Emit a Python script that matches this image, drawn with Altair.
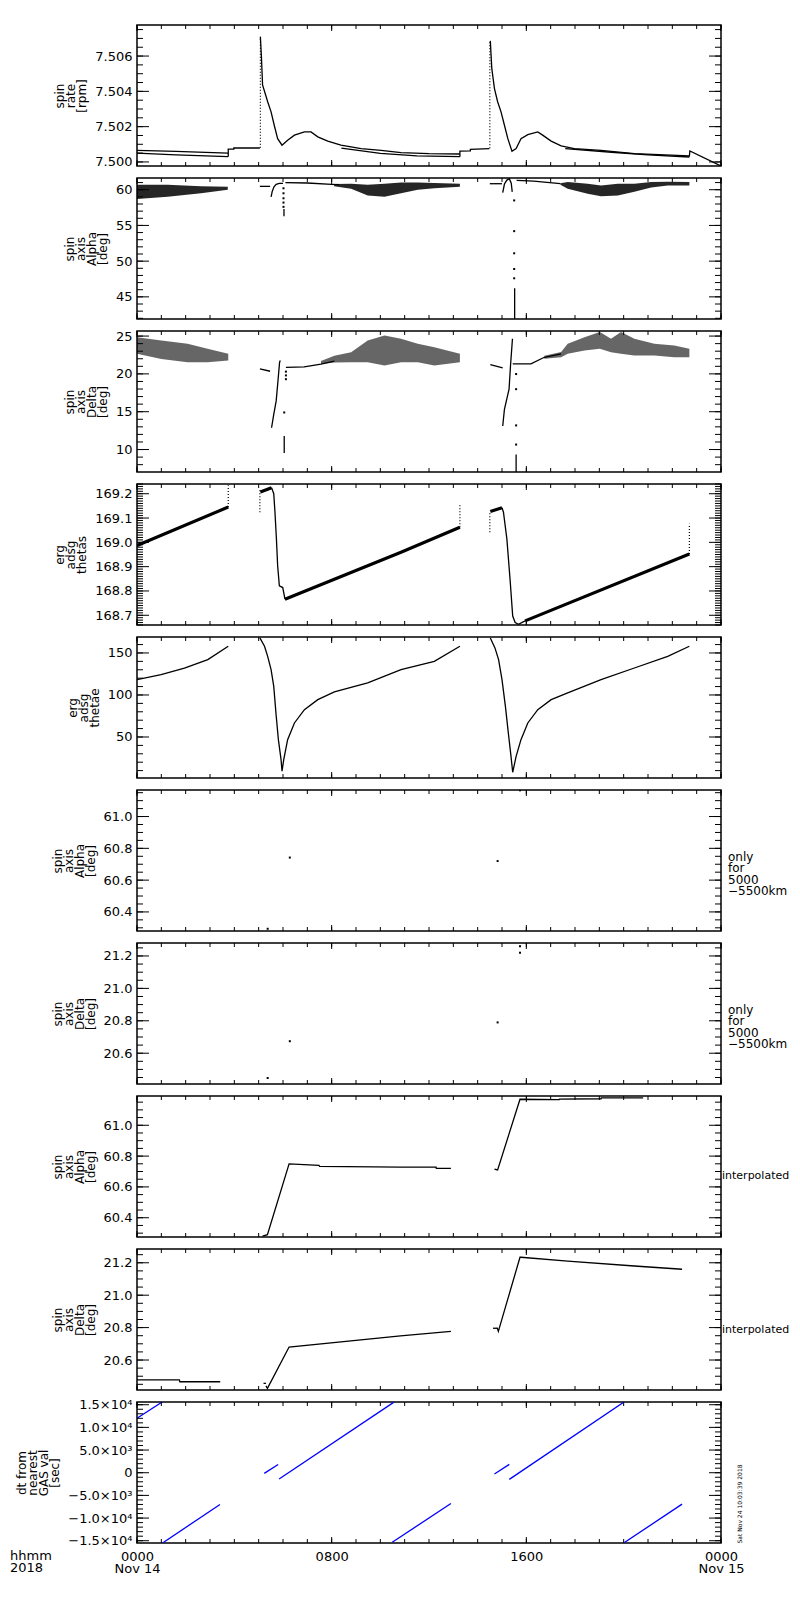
import json
import math

import altair as alt
import pandas as pd

W, H = 584, 141
FONT = "DejaVu Sans"

# time axis, hours after 0000 Nov 14 2018
HOUR_DOMAIN = [0, 24]
HOUR_MAJOR = [0, 8, 16, 24]
HOUR_LABELS = [["0000", "Nov 14"], "0800", "1600", ["0000", "Nov 15"]]

# panel 1 - spin rate [rpm]
RATE_DOMAIN = [7.49977, 7.50776]
RATE_MAJOR = [7.500, 7.502, 7.504, 7.506]
RATE_LINES = {
    "a1": ([0.0, 1.6, 3.74], [7.50066, 7.50060, 7.50050]),
    "a2": ([0.0, 1.6, 3.74], [7.50050, 7.50040, 7.50030]),
    "b": ([3.75, 3.75, 3.98, 3.98, 5.05], [7.50030, 7.50073, 7.50073, 7.50079, 7.50079]),
    "c": ([5.07, 5.11, 5.16, 5.37, 5.51, 5.64, 5.78, 5.96, 6.19, 6.47, 6.88, 7.15, 7.43,
           7.84, 8.38, 9.21, 10.03, 10.85, 12.0, 13.27],
          [7.5071, 7.50606, 7.50436, 7.50341, 7.50284, 7.50208, 7.50132, 7.50095, 7.50123,
           7.50152, 7.5017, 7.5017, 7.50142, 7.50118, 7.50095, 7.50076, 7.50066, 7.50053,
           7.50047, 7.50045]),
    "c2": ([8.4, 10.0, 11.5, 13.27], [7.50078, 7.50048, 7.50034, 7.50030]),
    "d": ([13.27, 13.27, 13.7, 13.7, 14.48], [7.50030, 7.50061, 7.50063, 7.50071, 7.50076]),
    "e": ([14.52, 14.58, 14.69, 14.82, 14.96, 15.1, 15.24, 15.41, 15.58, 15.78, 16.06, 16.47,
           16.67, 17.02, 17.43, 17.97, 19.07, 20.44, 22.7],
          [7.50686, 7.5053, 7.50416, 7.50341, 7.50284, 7.50208, 7.50132, 7.50061, 7.50076,
           7.50132, 7.50155, 7.5017, 7.50152, 7.50118, 7.50091, 7.50076, 7.50066, 7.50047,
           7.50034]),
    "e2": ([17.6, 19.5, 21.0, 22.7], [7.50076, 7.50055, 7.50040, 7.50028]),
    "f": ([22.7, 22.72, 24.0], [7.50030, 7.50062, 7.49977]),
}
RATE_DOTTED = {
    "s1": ([5.07, 5.07], [7.5008, 7.5071]),
    "s2": ([14.5, 14.5], [7.50078, 7.50686]),
}

# panel 2 - spin axis Alpha [deg]
ALPHA_DOMAIN = [41.9, 61.64]
ALPHA_MAJOR = [45, 50, 55, 60]
ALPHA_BANDS = {
    "b1": ([0.0, 1.26, 2.63, 3.73], [58.7, 59.0, 59.5, 60.0], [60.7, 60.7, 60.5, 60.4]),
    "b2": ([8.1, 8.8, 9.48, 10.17, 10.85, 11.54, 12.22, 13.27],
           [60.5, 60.14, 59.2, 59.0, 59.5, 60.0, 60.2, 60.4],
           [60.8, 60.84, 60.7, 60.84, 61.0, 61.0, 60.95, 60.84]),
    "b3": ([17.4, 17.7, 18.52, 19.07, 19.76, 20.44, 21.13, 21.81, 22.7],
           [60.7, 60.14, 59.45, 59.1, 59.2, 59.7, 60.3, 60.6, 60.6],
           [60.9, 61.07, 60.84, 60.6, 60.84, 60.84, 61.07, 61.1, 61.07]),
}
ALPHA_LINES = {
    "l1": ([5.05, 5.47], [60.47, 60.47]),
    "arc1": ([5.51, 5.56, 5.63, 5.72, 5.85, 6.0], [59.0, 59.8, 60.4, 60.75, 60.9, 60.9]),
    "l2": ([6.1, 7.0, 8.0, 8.3], [60.98, 60.94, 60.75, 60.7]),
    "l3": ([14.5, 15.0], [60.84, 60.84]),
    "arc2": ([15.03, 15.1, 15.2, 15.3, 15.38, 15.42], [59.6, 60.8, 61.35, 61.55, 60.9, 59.7]),
    "l4": ([15.6, 16.3, 17.4], [61.3, 61.2, 60.84]),
    "spk1": ([6.04, 6.04], [57.3, 56.3]),
    "spk2": ([15.52, 15.52], [46.2, 41.9]),
}
ALPHA_DOTS_T = [6.02, 6.02, 6.02, 6.02, 6.02, 15.5, 15.5, 15.5, 15.5, 15.5]
ALPHA_DOTS_V = [60.2, 59.5, 58.8, 58.2, 57.6, 58.5, 54.2, 51.1, 48.9, 47.6]

# panel 3 - spin axis Delta [deg]
DELTA_DOMAIN = [7.03, 25.67]
DELTA_MAJOR = [10, 15, 20, 25]
DELTA_BANDS = {
    "b1": ([0.0, 1.0, 2.08, 2.9, 3.75], [22.65, 21.98, 21.54, 21.54, 21.76],
           [24.86, 24.4, 23.98, 23.31, 22.65]),
    "b2": ([7.56, 8.11, 8.8, 9.48, 10.17, 10.85, 11.54, 12.22, 13.27],
           [21.3, 21.5, 21.54, 21.54, 21.1, 21.54, 21.54, 21.1, 21.54],
           [21.7, 22.4, 22.87, 24.42, 25.09, 24.64, 23.98, 23.53, 22.65]),
    "b3": ([16.74, 17.43, 17.7, 18.39, 19.02, 19.48, 19.89, 20.44, 21.26, 22.08, 22.7],
           [22.0, 22.2, 22.65, 23.09, 23.31, 22.87, 22.65, 22.43, 22.43, 22.2, 22.2],
           [22.4, 22.9, 23.98, 24.86, 25.53, 24.64, 25.53, 24.64, 23.98, 23.76, 23.31]),
}
DELTA_LINES = {
    "l1": ([5.05, 5.47], [20.65, 20.35]),
    "c1": ([5.53, 5.62, 5.72, 5.8, 5.86, 5.89], [12.88, 14.66, 16.43, 19.32, 21.54, 21.76]),
    "l2": ([6.12, 6.87, 7.56, 8.11], [20.87, 20.94, 21.3, 21.7]),
    "sp1": ([6.05, 6.05], [11.8, 9.55]),
    "l3": ([14.52, 15.03], [21.23, 20.78]),
    "c2": ([15.03, 15.1, 15.21, 15.29, 15.35, 15.43], [13.11, 15.32, 16.86, 17.97, 21.1, 24.64]),
    "sp2": ([15.58, 15.58], [9.33, 7.0]),
    "l4": ([15.44, 16.19, 16.74, 17.43], [21.32, 21.32, 22.2, 22.65]),
}
DELTA_DOTS_T = [6.12, 6.12, 6.12, 6.05, 15.58, 15.58, 15.58, 15.58]
DELTA_DOTS_V = [20.3, 19.8, 19.3, 14.9, 19.98, 17.98, 13.19, 10.66]

# panel 4 - erg adsg thetas
THETAS_DOMAIN = [168.66, 169.24]
THETAS_MAJOR = [168.7, 168.8, 168.9, 169.0, 169.1, 169.2]
THETAS_THICK = {
    "a": ([0.0, 3.75], [168.987, 169.145]),
    "b": ([5.07, 5.53], [169.207, 169.225]),
    "c": ([6.08, 10.85, 13.27], [168.766, 168.959, 169.062]),
    "d": ([14.52, 15.0], [169.127, 169.142]),
    "e": ([15.95, 22.7], [168.677, 168.952]),
}
THETAS_THIN = {
    "b2": ([5.53, 5.62, 5.67, 5.73, 5.78, 5.85, 5.99, 6.08],
           [169.225, 169.2, 169.124, 169.014, 168.904, 168.821, 168.814, 168.766]),
    "d2": ([15.0, 15.06, 15.2, 15.33, 15.44, 15.54, 15.68, 15.95],
           [169.142, 169.124, 169.014, 168.849, 168.697, 168.67, 168.663, 168.677]),
}
THETAS_DOTTED = {
    "s1": ([3.75, 3.75], [169.145, 169.235]),
    "s2": ([5.05, 5.05], [169.124, 169.214]),
    "s3": ([13.27, 13.27], [169.062, 169.159]),
    "s4": ([14.5, 14.5], [169.042, 169.124]),
    "s5": ([22.7, 22.7], [168.952, 169.076]),
}

# panel 5 - erg adsg thetae
THETAE_DOMAIN = [1.2, 169.0]
THETAE_MAJOR = [50, 100, 150]
THETAE_LINES = {
    "a": ([0.0, 0.99, 1.95, 2.91, 3.75], [118.2, 124.2, 132.1, 142.1, 158.0]),
    "b": ([5.05, 5.24, 5.37, 5.51, 5.62, 5.71, 5.81, 5.92, 5.96, 6.03, 6.19, 6.47, 6.88,
           7.43, 8.11, 9.48, 10.85, 12.22, 13.27],
          [167.9, 158.0, 146.0, 130.2, 110.3, 78.6, 46.8, 23.0, 9.2, 23.0, 46.8, 66.7, 82.5,
           94.4, 103.6, 114.3, 130.2, 140.1, 158.0]),
    "c": ([14.52, 14.71, 14.86, 15.0, 15.14, 15.26, 15.37, 15.44, 15.58, 15.78, 16.06, 16.47,
           17.02, 17.7, 19.07, 20.44, 21.81, 22.7],
          [167.9, 156.0, 142.1, 118.2, 86.5, 54.8, 27.0, 8.0, 27.0, 46.8, 66.7, 82.5, 94.4,
           102.4, 118.2, 132.1, 146.0, 158.0]),
}

# panels 6 / 7 - only for 5000-5500km
ALPHA_5K_DOMAIN = [60.28, 61.167]
ALPHA_5K_T = [5.37, 6.28, 14.82, 15.74]
ALPHA_5K_V = [60.294, 60.742, 60.72, 61.165]
DELTA_5K_DOMAIN = [20.41, 21.28]
DELTA_5K_T = [5.37, 6.28, 14.82, 15.74, 15.74]
DELTA_5K_V = [20.447, 20.674, 20.79, 21.26, 21.22]
ALPHA_FINE_MAJOR = [60.4, 60.6, 60.8, 61.0]
DELTA_FINE_MAJOR = [20.6, 20.8, 21.0, 21.2]

# panels 8 / 9 - interpolated
ALPHA_INT_DOMAIN = [60.275, 61.19]
ALPHA_INT_LINES = {
    "a": ([5.16, 5.36, 6.25, 7.48, 7.5, 10.83, 12.29, 12.3, 12.9],
          [60.28, 60.29, 60.75, 60.74, 60.733, 60.728, 60.728, 60.72, 60.72]),
    "b": ([14.69, 14.82, 15.74, 17.35, 17.36, 19.07, 19.08, 20.8],
          [60.716, 60.71, 61.169, 61.166, 61.17, 61.172, 61.178, 61.178]),
}
DELTA_INT_DOMAIN = [20.415, 21.285]
DELTA_INT_LINES = {
    "a": ([0.0, 1.74, 1.76, 3.42], [20.477, 20.477, 20.466, 20.466]),
    "b0": ([5.2, 5.3], [20.456, 20.456]),
    "b": ([5.3, 5.36, 6.25, 10.83, 12.9], [20.44, 20.425, 20.68, 20.749, 20.777]),
    "c0": ([14.63, 14.8], [20.796, 20.796]),
    "c": ([14.8, 14.85, 15.74, 15.78, 17.7, 20.44, 22.4],
          [20.8, 20.777, 21.234, 21.234, 21.21, 21.18, 21.16]),
}

# panel 10 - dt from nearest GAS val [sec]
DT_DOMAIN = [-15500, 15600]
DT_MAJOR = [-15000, -10000, -5000, 0, 5000, 10000, 15000]
DT_LABELS = ["\u22121.5\u00d710\u2074", "\u22121.0\u00d710\u2074", "\u22125.0\u00d710\u00b3", "0",
             "5.0\u00d710\u00b3", "1.0\u00d710\u2074", "1.5\u00d710\u2074"]
DT_LINES = {
    "s1": ([0.0, 1.05], [12000, 15650]),
    "s2": ([1.05, 3.41], [-15500, -7000]),
    "s3": ([5.23, 5.8], [-150, 1820]),
    "s4": ([5.84, 10.56], [-1370, 15580]),
    "s5": ([10.49, 12.9], [-15350, -6780]),
    "s6": ([14.69, 15.3], [-290, 1840]),
    "s7": ([15.3, 20.0], [-1470, 15550]),
    "s8": ([20.03, 22.4], [-15400, -6930]),
}
STAMP = "Sat Nov 24 10:03:39 2018"


def ticks(domain, step):
    lo, hi = domain
    k0 = math.ceil(lo / step - 1e-6)
    k1 = math.floor(hi / step + 1e-6)
    return [round(k * step, 6) for k in range(k0, k1 + 1)]


def label_expr(values, labels):
    parts = [f"datum.value == {v} ? {json.dumps(l, ensure_ascii=False)}" for v, l in zip(values, labels)]
    return " : ".join(parts) + " : ''"


def seg_frame(segs):
    rows = []
    for name, (ts, vs) in segs.items():
        for i, (t, v) in enumerate(zip(ts, vs)):
            rows.append({"seg": name, "i": i, "t": t, "v": v})
    return pd.DataFrame(rows)


def band_frame(bands):
    rows = []
    for name, (ts, lo, hi) in bands.items():
        for t, a, b in zip(ts, lo, hi):
            rows.append({"seg": name, "t": t, "v": a, "v2": b})
    return pd.DataFrame(rows)


def note(text, x, y, **kw):
    return alt.Chart(pd.DataFrame({"s": [text]})).mark_text(
        lineBreak="\n", font=FONT, color="black", **kw
    ).encode(text="s:N", x=alt.value(x), y=alt.value(y))


def panel(title, domain, major, minor_step, fmt=None, ylabels=None, bottom=False,
          lines=None, thick=None, dotted=None, bands=None, dots=None,
          color="black", band_opacity=0.8, notes=()):
    if bottom:
        xax = alt.Axis(values=HOUR_MAJOR, labelExpr=label_expr(HOUR_MAJOR, HOUR_LABELS),
                       tickSize=0, domain=False, grid=False, title=None, labelPadding=7,
                       labelFontSize=13, labelLineHeight=12, labelFlush=False,
                       labelOverlap=False, labelAngle=0)
    else:
        xax = None
    x = alt.X("t:Q", scale=alt.Scale(domain=HOUR_DOMAIN, nice=False, zero=False), axis=xax)

    ykw = dict(title=title, values=major, tickSize=0, domain=False, grid=False,
               labelPadding=5, labelFontSize=13, labelOverlap=False, labelFlush=False,
               titleFontSize=12, titleLineHeight=11, titleFontWeight="normal", titlePadding=6)
    if fmt:
        ykw["format"] = fmt
    if ylabels:
        ykw["labelExpr"] = label_expr(major, ylabels)
    y = alt.Y("v:Q", scale=alt.Scale(domain=domain, nice=False, zero=False), axis=alt.Axis(**ykw))

    layers = []
    if bands:
        layers.append(alt.Chart(band_frame(bands)).mark_area(
            clip=True, color=color, opacity=band_opacity
        ).encode(x=x, y=y, y2="v2:Q", detail="seg:N"))
    if lines:
        layers.append(alt.Chart(seg_frame(lines)).mark_line(
            clip=True, color=color, strokeWidth=1.3
        ).encode(x=x, y=y, detail="seg:N", order="i:Q"))
    if thick:
        layers.append(alt.Chart(seg_frame(thick)).mark_line(
            clip=True, color=color, strokeWidth=3.2
        ).encode(x=x, y=y, detail="seg:N", order="i:Q"))
    if dotted:
        layers.append(alt.Chart(seg_frame(dotted)).mark_line(
            clip=True, color=color, strokeWidth=1.2, strokeDash=[1, 2]
        ).encode(x=x, y=y, detail="seg:N", order="i:Q"))
    if dots:
        layers.append(alt.Chart(pd.DataFrame({"t": dots[0], "v": dots[1]})).mark_square(
            clip=True, color=color, size=4, opacity=1
        ).encode(x=x, y=y))

    # inward IDL-style ticks on all four sides
    ymaj = pd.DataFrame({"v": major})
    ymin = pd.DataFrame({"v": ticks(domain, minor_step)})
    xmaj = pd.DataFrame({"t": HOUR_MAJOR})
    xmin = pd.DataFrame({"t": ticks(HOUR_DOMAIN, 1)})
    rule = lambda d: alt.Chart(d).mark_rule(color="black", strokeWidth=1)
    layers += [
        rule(ymaj).encode(y=y, x=alt.value(0), x2=alt.value(12)),
        rule(ymaj).encode(y=y, x=alt.value(W), x2=alt.value(W - 12)),
        rule(ymin).encode(y=y, x=alt.value(0), x2=alt.value(6)),
        rule(ymin).encode(y=y, x=alt.value(W), x2=alt.value(W - 6)),
        rule(xmaj).encode(x=x, y=alt.value(0), y2=alt.value(6)),
        rule(xmaj).encode(x=x, y=alt.value(H), y2=alt.value(H - 6)),
        rule(xmin).encode(x=x, y=alt.value(0), y2=alt.value(4)),
        rule(xmin).encode(x=x, y=alt.value(H), y2=alt.value(H - 4)),
    ]
    layers += list(notes)
    return alt.layer(*layers).properties(width=W, height=H)


ONLY = "\u2002only\nfor\n5000\n\u22125500km"

p1 = panel(["spin", "rate", "[rpm]"], RATE_DOMAIN, RATE_MAJOR, 0.0005, ".3f",
           lines=RATE_LINES, dotted=RATE_DOTTED)
p2 = panel(["spin", "axis", "Alpha", "[deg]"], ALPHA_DOMAIN, ALPHA_MAJOR, 1, "d",
           bands=ALPHA_BANDS, lines=ALPHA_LINES, dots=(ALPHA_DOTS_T, ALPHA_DOTS_V),
           band_opacity=0.85)
p3 = panel(["spin", "axis", "Delta", "[deg]"], DELTA_DOMAIN, DELTA_MAJOR, 1, "d",
           bands=DELTA_BANDS, lines=DELTA_LINES, dots=(DELTA_DOTS_T, DELTA_DOTS_V),
           band_opacity=0.6)
p4 = panel(["erg", "adsg", "thetas"], THETAS_DOMAIN, THETAS_MAJOR, 0.01, ".1f",
           thick=THETAS_THICK, lines=THETAS_THIN, dotted=THETAS_DOTTED)
p5 = panel(["erg", "adsg", "thetae"], THETAE_DOMAIN, THETAE_MAJOR, 10, "d",
           lines=THETAE_LINES)
p6 = panel(["spin", "axis", "Alpha", "[deg]"], ALPHA_5K_DOMAIN, ALPHA_FINE_MAJOR, 0.05, ".1f",
           dots=(ALPHA_5K_T, ALPHA_5K_V),
           notes=[note(ONLY, W + 7, 71, align="left", baseline="alphabetic",
                       fontSize=12, lineHeight=11.4)])
p7 = panel(["spin", "axis", "Delta", "[deg]"], DELTA_5K_DOMAIN, DELTA_FINE_MAJOR, 0.05, ".1f",
           dots=(DELTA_5K_T, DELTA_5K_V),
           notes=[note(ONLY, W + 7, 71, align="left", baseline="alphabetic",
                       fontSize=12, lineHeight=11.4)])
p8 = panel(["spin", "axis", "Alpha", "[deg]"], ALPHA_INT_DOMAIN, ALPHA_FINE_MAJOR, 0.05, ".1f",
           lines=ALPHA_INT_LINES,
           notes=[note("interpolated", W + 1, 83, align="left", baseline="alphabetic",
                       fontSize=11)])
p9 = panel(["spin", "axis", "Delta", "[deg]"], DELTA_INT_DOMAIN, DELTA_FINE_MAJOR, 0.05, ".1f",
           lines=DELTA_INT_LINES,
           notes=[note("interpolated", W + 1, 84, align="left", baseline="alphabetic",
                       fontSize=11)])
p10 = panel(["dt from", "nearest", "GAS val", "[sec]"], DT_DOMAIN, DT_MAJOR, 1000,
            ylabels=DT_LABELS, bottom=True, lines=DT_LINES, color="#0000ff",
            notes=[note("hhmm\n2018", -127, H + 7, align="left", baseline="top",
                        fontSize=13, lineHeight=12),
                   note(STAMP, W + 19, 102, align="center", baseline="middle",
                        angle=270, fontSize=6)])

chart = alt.vconcat(p1, p2, p3, p4, p5, p6, p7, p8, p9, p10, spacing=12, bounds="flush").properties(
    padding={"left": 1, "top": 15, "right": 0, "bottom": 5},
    background="white",
).configure(font=FONT).configure_axis(
    labelFont=FONT, titleFont=FONT, labelColor="black", titleColor="black"
).configure_view(stroke="black", strokeWidth=1.5)

chart.save("out.html", embed_options={"renderer": "svg", "actions": False})
